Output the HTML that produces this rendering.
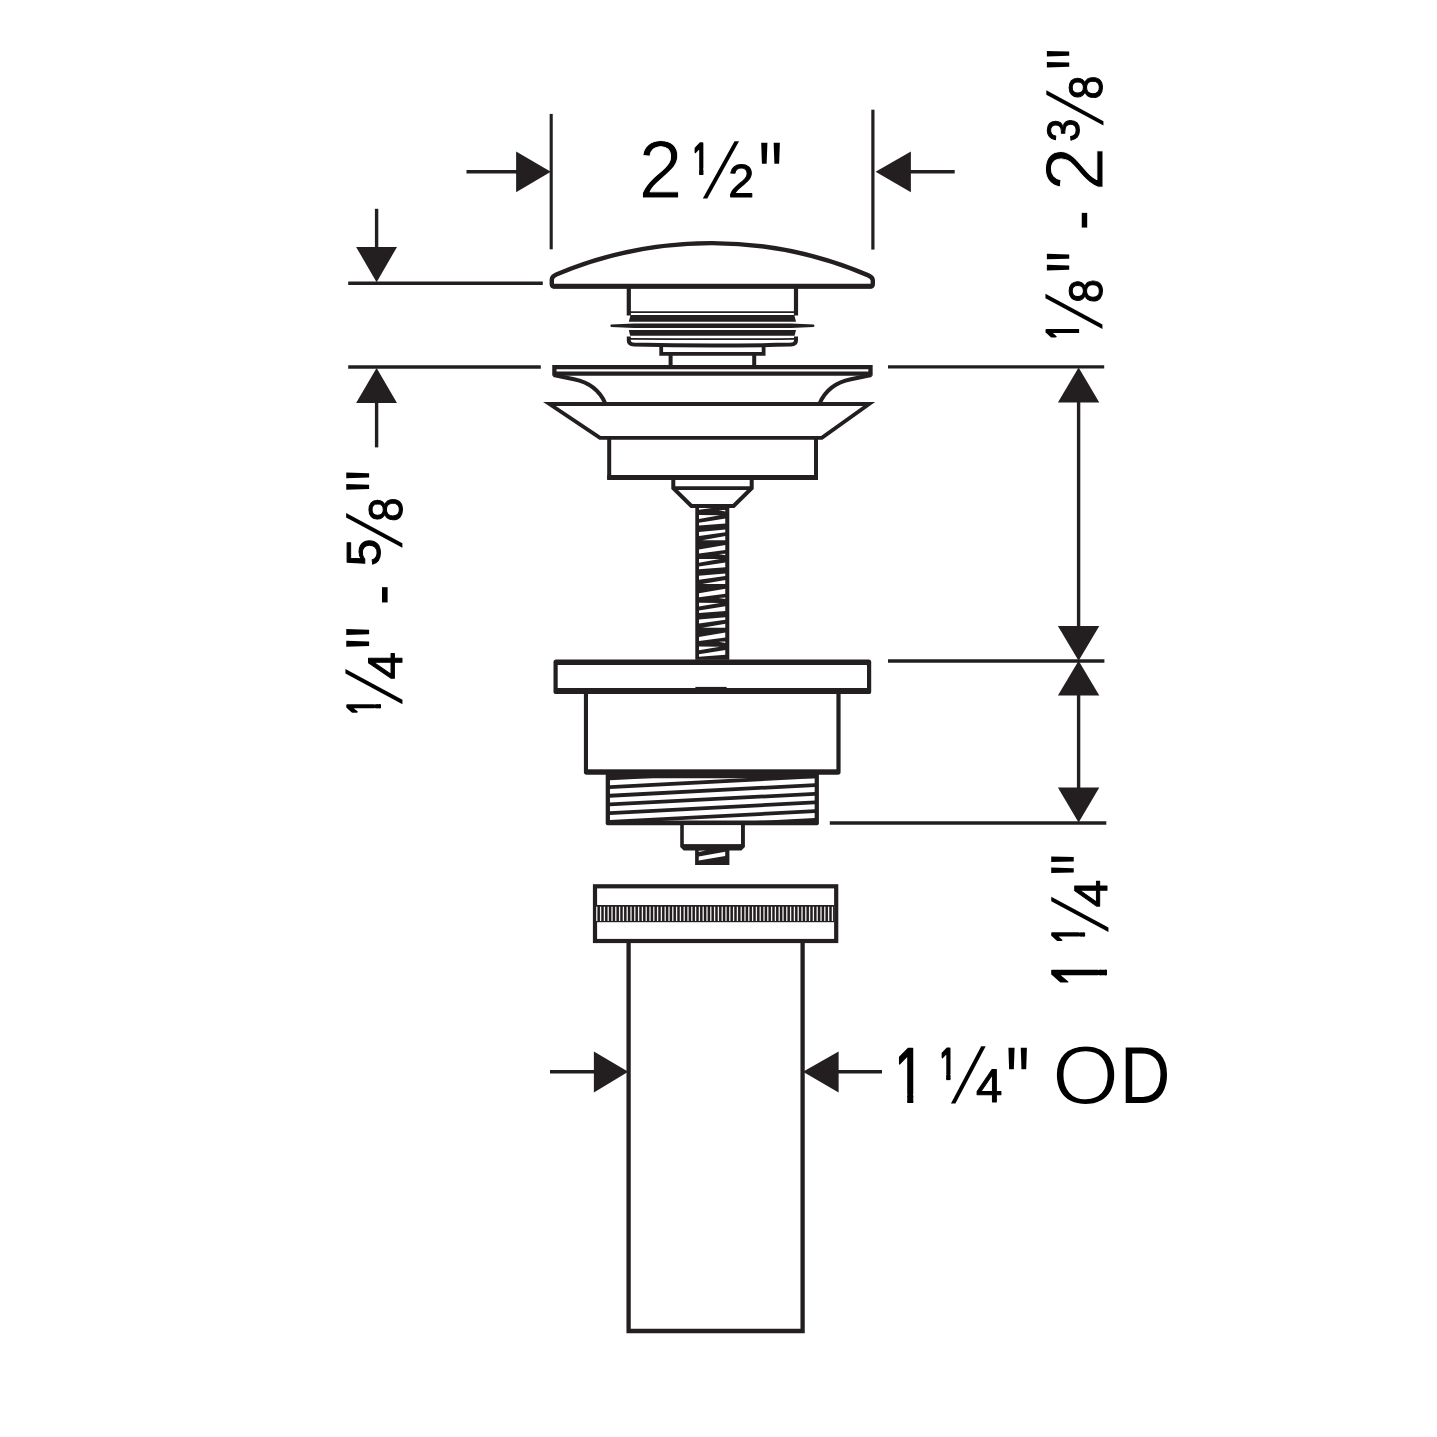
<!DOCTYPE html>
<html lang="en"><head><meta charset="utf-8"><title>Pop-up drain dimensions</title>
<style>html,body{margin:0;padding:0;background:#fff}svg{display:block;will-change:transform}text{text-rendering:geometricPrecision}</style></head>
<body>
<svg width="1437" height="1437" viewBox="0 0 1437 1437" role="img">
<defs><clipPath id="one0"><path d="M -5,-85 L 65,-85 L 65,-11.82 L 36.52,-11.82 L 36.52,3.12 L 22.48,3.12 L 22.48,-11.82 L -5,-11.82 Z"/></clipPath><clipPath id="one1"><path d="M -5,-85 L 65,-85 L 65,-11.79 L 36.49,-11.79 L 36.49,3.09 L 22.51,3.09 L 22.51,-11.79 L -5,-11.79 Z"/></clipPath><clipPath id="one2"><path d="M -5,-85 L 65,-85 L 65,-11.82 L 36.52,-11.82 L 36.52,3.12 L 22.48,3.12 L 22.48,-11.82 L -5,-11.82 Z"/></clipPath><clipPath id="one3"><path d="M -5,-85 L 65,-85 L 65,-10.51 L 35.21,-10.51 L 35.21,1.81 L 23.79,1.81 L 23.79,-10.51 L -5,-10.51 Z"/></clipPath><clipPath id="one4"><path d="M -5,-85 L 65,-85 L 65,-11.79 L 36.49,-11.79 L 36.49,3.09 L 22.51,3.09 L 22.51,-11.79 L -5,-11.79 Z"/></clipPath><clipPath id="one5"><path d="M -5,-85 L 65,-85 L 65,-10.44 L 35.14,-10.44 L 35.14,1.74 L 23.86,1.74 L 23.86,-10.44 L -5,-10.44 Z"/></clipPath><clipPath id="one6"><path d="M -5,-85 L 65,-85 L 65,-11.81 L 36.51,-11.81 L 36.51,3.11 L 22.49,3.11 L 22.49,-11.81 L -5,-11.81 Z"/></clipPath></defs>
<rect width="1437" height="1437" fill="#fff"/>
<line x1="551.2" y1="113.9" x2="551.2" y2="249.3" stroke="#231f20" stroke-width="3.1" stroke-linecap="butt"/>
<line x1="872.9" y1="109.7" x2="872.9" y2="249.6" stroke="#231f20" stroke-width="3.2" stroke-linecap="butt"/>
<line x1="466.5" y1="171.7" x2="520" y2="171.7" stroke="#231f20" stroke-width="3.4" stroke-linecap="butt"/>
<polygon points="516.10,151.60 516.10,192.20 550.80,171.70" fill="#231f20"/>
<line x1="907" y1="171.75" x2="954.7" y2="171.75" stroke="#231f20" stroke-width="3.4" stroke-linecap="butt"/>
<polygon points="910.90,151.50 910.90,192.30 875.60,171.75" fill="#231f20"/>
<line x1="348.2" y1="283.2" x2="542.8" y2="283.2" stroke="#231f20" stroke-width="3.4" stroke-linecap="butt"/>
<line x1="348.2" y1="367" x2="540.8" y2="367" stroke="#231f20" stroke-width="3.4" stroke-linecap="butt"/>
<line x1="376.6" y1="208.8" x2="376.6" y2="250" stroke="#231f20" stroke-width="3.4" stroke-linecap="butt"/>
<polygon points="356.10,246.90 397.00,246.90 376.60,282.30" fill="#231f20"/>
<line x1="376.6" y1="400" x2="376.6" y2="447.4" stroke="#231f20" stroke-width="3.4" stroke-linecap="butt"/>
<polygon points="356.10,402.90 397.00,402.90 376.60,368.00" fill="#231f20"/>
<line x1="888" y1="366.9" x2="1104.2" y2="366.9" stroke="#231f20" stroke-width="3.4" stroke-linecap="butt"/>
<line x1="888" y1="661.0" x2="1104.4" y2="661.0" stroke="#231f20" stroke-width="3.4" stroke-linecap="butt"/>
<line x1="829.8" y1="823" x2="1106.3" y2="823" stroke="#231f20" stroke-width="3.4" stroke-linecap="butt"/>
<line x1="1078.6" y1="400" x2="1078.6" y2="630" stroke="#231f20" stroke-width="3.4" stroke-linecap="butt"/>
<line x1="1078.6" y1="692" x2="1078.6" y2="790" stroke="#231f20" stroke-width="3.4" stroke-linecap="butt"/>
<polygon points="1057.90,402.60 1099.30,402.60 1078.60,367.60" fill="#231f20"/>
<polygon points="1057.90,626.10 1099.30,626.10 1078.60,660.80" fill="#231f20"/>
<polygon points="1057.90,695.60 1099.30,695.60 1078.60,660.80" fill="#231f20"/>
<polygon points="1057.90,787.50 1099.30,787.50 1078.60,822.60" fill="#231f20"/>
<line x1="550" y1="1071.7" x2="597" y2="1071.7" stroke="#231f20" stroke-width="3.4" stroke-linecap="butt"/>
<polygon points="593.90,1051.60 593.90,1092.40 628.20,1071.80" fill="#231f20"/>
<line x1="835" y1="1071.7" x2="882" y2="1071.7" stroke="#231f20" stroke-width="3.4" stroke-linecap="butt"/>
<polygon points="838.60,1051.60 838.60,1092.40 803.00,1071.80" fill="#231f20"/>
<path d="M 554.3,286.4 L 870.3,286.4 Q 872.8,286.4 872.8,283.9 L 872.8,280.6 Q 872.8,277.3 868.3,275.4 A 397.8 397.8 0 0 0 556.3,274.5 Q 551.8,276.4 551.8,279.7 L 551.8,283.9 Q 551.8,286.4 554.3,286.4 Z" fill="#fff" stroke="#231f20" stroke-width="4.4" stroke-linejoin="round" />
<line x1="553" y1="286.3" x2="871.6" y2="286.3" stroke="#231f20" stroke-width="4.9" stroke-linecap="butt"/>
<line x1="628.8" y1="288" x2="628.8" y2="315.5" stroke="#231f20" stroke-width="4.2" stroke-linecap="butt"/>
<line x1="796.0" y1="288" x2="796.0" y2="315.5" stroke="#231f20" stroke-width="4.2" stroke-linecap="butt"/>
<line x1="629" y1="312.2" x2="796" y2="312.2" stroke="#231f20" stroke-width="1.8" stroke-linecap="butt"/>
<polygon points="630.50,315.10 794.30,315.10 796.00,321.80 628.80,321.80" fill="#231f20"/>
<path d="M 611.2,324.5 Q 609.4,325.7 611.2,326.9 L 634,328 L 791,328 L 813.6,326.9 Q 815.4,325.7 813.6,324.5 L 791,323.4 L 634,323.4 Z" fill="#231f20" stroke="#231f20" stroke-width="0" stroke-linejoin="miter" />
<polygon points="628.80,330.10 796.00,330.10 794.60,335.80 630.20,335.80" fill="#231f20"/>
<path d="M 630,338.8 Q 712.4,339.6 795,338.8" fill="none" stroke="#231f20" stroke-width="1.8" stroke-linejoin="miter" />
<path d="M 628.8,336.4 L 628.8,340.5 Q 628.8,344.3 634,344.6 Q 712.4,346.6 790.8,344.6 Q 796,344.3 796,340.5 L 796,336.4" fill="none" stroke="#231f20" stroke-width="4.0" stroke-linejoin="miter" />
<path d="M 661.2,346 L 661.2,353.8 L 763.6,353.8 L 763.6,346" fill="none" stroke="#231f20" stroke-width="3.8" stroke-linejoin="miter" />
<line x1="670.6" y1="355" x2="670.6" y2="366" stroke="#231f20" stroke-width="4.0" stroke-linecap="butt"/>
<line x1="754.2" y1="355" x2="754.2" y2="366" stroke="#231f20" stroke-width="4.0" stroke-linecap="butt"/>
<path d="M 554.4,367.1 L 870.5,367.1 L 870.5,373.6 L 554.4,373.6 Z" fill="#fff" stroke="#231f20" stroke-width="4.3" stroke-linejoin="miter" />
<path d="M 553.5,375 L 574,379.3 Q 597,384 605.3,403.5" fill="none" stroke="#231f20" stroke-width="4.0" stroke-linejoin="miter" />
<path d="M 871.4,375 L 850.9,379.3 Q 827.9,384 819.6,403.5" fill="none" stroke="#231f20" stroke-width="4.0" stroke-linejoin="miter" />
<path d="M 549.5,404.0 L 869.1,404.0 L 821.8,437.9 L 600.0,437.9 Z" fill="none" stroke="#231f20" stroke-width="3.9" stroke-linejoin="miter" />
<path d="M 609.2,438.2 L 609.2,477.5 L 816.0,477.5 L 816.0,438.2" fill="none" stroke="#231f20" stroke-width="4.0" stroke-linejoin="miter" />
<line x1="607.2" y1="477.5" x2="818.0" y2="477.5" stroke="#231f20" stroke-width="5.2" stroke-linecap="butt"/>
<path d="M 673.3,479 L 673.3,488.2 L 691.4,506 L 733.6,506 L 751.7,488.2 L 751.7,479" fill="none" stroke="#231f20" stroke-width="4.0" stroke-linejoin="miter" />
<line x1="673.3" y1="488.2" x2="751.7" y2="488.2" stroke="#231f20" stroke-width="3.8" stroke-linecap="butt"/>
<rect x="695.30" y="506.00" width="34.00" height="153.80" fill="#231f20"/>
<clipPath id="rodclip"><rect x="698.9" y="508" width="26.6" height="151.6"/></clipPath>
<g clip-path="url(#rodclip)" fill="#fff">
<polygon points="698.90,471.30 719.90,471.50 698.90,475.10"/>
<polygon points="698.90,479.00 725.50,474.80 725.50,479.60 698.90,481.60"/>
<polygon points="698.90,488.20 725.50,485.80 725.50,488.40 698.90,492.20"/>
<polygon points="702.20,496.40 725.50,492.30 725.50,496.40"/>
<polygon points="698.90,505.60 725.50,501.20 725.50,506.20 698.90,509.70"/>
<polygon points="718.70,510.30 725.50,510.00 725.50,511.50"/>
<polygon points="698.90,515.10 719.90,515.30 698.90,518.90"/>
<polygon points="698.90,522.80 725.50,518.60 725.50,523.40 698.90,525.40"/>
<polygon points="698.90,532.00 725.50,529.60 725.50,532.20 698.90,536.00"/>
<polygon points="702.20,540.20 725.50,536.10 725.50,540.20"/>
<polygon points="698.90,549.40 725.50,545.00 725.50,550.00 698.90,553.50"/>
<polygon points="718.70,554.10 725.50,553.80 725.50,555.30"/>
<polygon points="698.90,558.90 719.90,559.10 698.90,562.70"/>
<polygon points="698.90,566.60 725.50,562.40 725.50,567.20 698.90,569.20"/>
<polygon points="698.90,575.80 725.50,573.40 725.50,576.00 698.90,579.80"/>
<polygon points="702.20,584.00 725.50,579.90 725.50,584.00"/>
<polygon points="698.90,593.20 725.50,588.80 725.50,593.80 698.90,597.30"/>
<polygon points="718.70,597.90 725.50,597.60 725.50,599.10"/>
<polygon points="698.90,602.70 719.90,602.90 698.90,606.50"/>
<polygon points="698.90,610.40 725.50,606.20 725.50,611.00 698.90,613.00"/>
<polygon points="698.90,619.60 725.50,617.20 725.50,619.80 698.90,623.60"/>
<polygon points="702.20,627.80 725.50,623.70 725.50,627.80"/>
<polygon points="698.90,637.00 725.50,632.60 725.50,637.60 698.90,641.10"/>
<polygon points="718.70,641.70 725.50,641.40 725.50,642.90"/>
<polygon points="698.90,646.50 719.90,646.70 698.90,650.30"/>
<polygon points="698.90,654.20 725.50,650.00 725.50,654.80 698.90,656.80"/>
<polygon points="698.90,663.40 725.50,661.00 725.50,663.60 698.90,667.40"/>
<polygon points="702.20,671.60 725.50,667.50 725.50,671.60"/>
<polygon points="698.90,680.80 725.50,676.40 725.50,681.40 698.90,684.90"/>
<polygon points="718.70,685.50 725.50,685.20 725.50,686.70"/>
<polygon points="698.90,690.30 719.90,690.50 698.90,694.10"/>
<polygon points="698.90,698.00 725.50,693.80 725.50,698.60 698.90,700.60"/>
<polygon points="698.90,707.20 725.50,704.80 725.50,707.40 698.90,711.20"/>
<polygon points="702.20,715.40 725.50,711.30 725.50,715.40"/>
<polygon points="698.90,724.60 725.50,720.20 725.50,725.20 698.90,728.70"/>
<polygon points="718.70,729.30 725.50,729.00 725.50,730.50"/>
</g>
<path d="M 583.9,690 L 840.6,690 L 840.6,772.0 Q 840.6,774.7 837.9,774.7 L 586.6,774.7 Q 583.9,774.7 583.9,772.0 Z" fill="#231f20"/>
<rect x="588.00" y="690.00" width="248.40" height="79.30" fill="#fff"/>
<rect x="553.5" y="659.6" width="317.7" height="34.4" rx="2.6" fill="#231f20"/>
<rect x="557.7" y="665.0" width="309.3" height="23.1" rx="0.6" fill="#fff"/>
<rect x="695.40" y="686.90" width="31.20" height="1.80" fill="#231f20"/>
<path d="M 605.7,772 L 818.9,772 L 818.9,823.2 Q 818.9,825.2 816.9,825.2 L 607.7,825.2 Q 605.7,825.2 605.7,823.2 Z" fill="#231f20"/>
<clipPath id="thclip"><rect x="609.8" y="778.3" width="205" height="42.2"/></clipPath>
<g clip-path="url(#thclip)" fill="#fff">
<polygon points="609.8,780.28 814.8,769.62 814.8,774.52 609.8,785.18"/>
<polygon points="609.8,788.96 814.8,778.30 814.8,783.20 609.8,793.86"/>
<polygon points="609.8,797.64 814.8,786.98 814.8,791.88 609.8,802.54"/>
<polygon points="609.8,806.32 814.8,795.66 814.8,800.56 609.8,811.22"/>
<polygon points="609.8,815.00 814.8,804.34 814.8,809.24 609.8,819.90"/>
<polygon points="609.8,823.68 814.8,813.02 814.8,817.92 609.8,828.58"/>
</g>
<path d="M 680.2,824 L 744.9,824 L 744.9,846.9 L 741.4,850.4 L 683.7,850.4 L 680.2,846.9 Z" fill="#231f20"/>
<rect x="683.80" y="825.10" width="57.20" height="19.00" fill="#fff"/>
<rect x="695.10" y="850.00" width="34.30" height="15.00" fill="#231f20"/>
<polygon points="698.75,856.60 725.20,851.75 725.20,855.90 698.75,860.45" fill="#fff"/>
<polygon points="698.75,850.70 706.00,850.40 698.75,852.10" fill="#fff"/>
<path d="M 628.6,941 L 628.6,1331 L 802.6,1331 L 802.6,941" fill="none" stroke="#231f20" stroke-width="4.3" stroke-linejoin="miter" />
<rect x="595" y="886.3" width="241.2" height="54.7" fill="#fff" stroke="#231f20" stroke-width="4.2"/>
<rect x="596.90" y="905.00" width="237.20" height="17.20" fill="#231f20"/>
<rect x="596.15" y="906.70" width="1.30" height="14.30" fill="#f2f2f2"/>
<rect x="599.95" y="906.70" width="1.30" height="14.30" fill="#f2f2f2"/>
<rect x="603.75" y="906.70" width="1.30" height="14.30" fill="#f2f2f2"/>
<rect x="607.55" y="906.70" width="1.30" height="14.30" fill="#f2f2f2"/>
<rect x="611.35" y="906.70" width="1.30" height="14.30" fill="#f2f2f2"/>
<rect x="615.15" y="906.70" width="1.30" height="14.30" fill="#f2f2f2"/>
<rect x="618.95" y="906.70" width="1.30" height="14.30" fill="#f2f2f2"/>
<rect x="622.75" y="906.70" width="1.30" height="14.30" fill="#f2f2f2"/>
<rect x="626.55" y="906.70" width="1.30" height="14.30" fill="#f2f2f2"/>
<rect x="630.35" y="906.70" width="1.30" height="14.30" fill="#f2f2f2"/>
<rect x="634.15" y="906.70" width="1.30" height="14.30" fill="#f2f2f2"/>
<rect x="637.95" y="906.70" width="1.30" height="14.30" fill="#f2f2f2"/>
<rect x="641.75" y="906.70" width="1.30" height="14.30" fill="#f2f2f2"/>
<rect x="645.55" y="906.70" width="1.30" height="14.30" fill="#f2f2f2"/>
<rect x="649.35" y="906.70" width="1.30" height="14.30" fill="#f2f2f2"/>
<rect x="653.15" y="906.70" width="1.30" height="14.30" fill="#f2f2f2"/>
<rect x="656.95" y="906.70" width="1.30" height="14.30" fill="#f2f2f2"/>
<rect x="660.75" y="906.70" width="1.30" height="14.30" fill="#f2f2f2"/>
<rect x="664.55" y="906.70" width="1.30" height="14.30" fill="#f2f2f2"/>
<rect x="668.35" y="906.70" width="1.30" height="14.30" fill="#f2f2f2"/>
<rect x="672.15" y="906.70" width="1.30" height="14.30" fill="#f2f2f2"/>
<rect x="675.95" y="906.70" width="1.30" height="14.30" fill="#f2f2f2"/>
<rect x="679.75" y="906.70" width="1.30" height="14.30" fill="#f2f2f2"/>
<rect x="683.55" y="906.70" width="1.30" height="14.30" fill="#f2f2f2"/>
<rect x="687.35" y="906.70" width="1.30" height="14.30" fill="#f2f2f2"/>
<rect x="691.15" y="906.70" width="1.30" height="14.30" fill="#f2f2f2"/>
<rect x="694.95" y="906.70" width="1.30" height="14.30" fill="#f2f2f2"/>
<rect x="698.75" y="906.70" width="1.30" height="14.30" fill="#f2f2f2"/>
<rect x="702.55" y="906.70" width="1.30" height="14.30" fill="#f2f2f2"/>
<rect x="706.35" y="906.70" width="1.30" height="14.30" fill="#f2f2f2"/>
<rect x="710.15" y="906.70" width="1.30" height="14.30" fill="#f2f2f2"/>
<rect x="713.95" y="906.70" width="1.30" height="14.30" fill="#f2f2f2"/>
<rect x="717.75" y="906.70" width="1.30" height="14.30" fill="#f2f2f2"/>
<rect x="721.55" y="906.70" width="1.30" height="14.30" fill="#f2f2f2"/>
<rect x="725.35" y="906.70" width="1.30" height="14.30" fill="#f2f2f2"/>
<rect x="729.15" y="906.70" width="1.30" height="14.30" fill="#f2f2f2"/>
<rect x="732.95" y="906.70" width="1.30" height="14.30" fill="#f2f2f2"/>
<rect x="736.75" y="906.70" width="1.30" height="14.30" fill="#f2f2f2"/>
<rect x="740.55" y="906.70" width="1.30" height="14.30" fill="#f2f2f2"/>
<rect x="744.35" y="906.70" width="1.30" height="14.30" fill="#f2f2f2"/>
<rect x="748.15" y="906.70" width="1.30" height="14.30" fill="#f2f2f2"/>
<rect x="751.95" y="906.70" width="1.30" height="14.30" fill="#f2f2f2"/>
<rect x="755.75" y="906.70" width="1.30" height="14.30" fill="#f2f2f2"/>
<rect x="759.55" y="906.70" width="1.30" height="14.30" fill="#f2f2f2"/>
<rect x="763.35" y="906.70" width="1.30" height="14.30" fill="#f2f2f2"/>
<rect x="767.15" y="906.70" width="1.30" height="14.30" fill="#f2f2f2"/>
<rect x="770.95" y="906.70" width="1.30" height="14.30" fill="#f2f2f2"/>
<rect x="774.75" y="906.70" width="1.30" height="14.30" fill="#f2f2f2"/>
<rect x="778.55" y="906.70" width="1.30" height="14.30" fill="#f2f2f2"/>
<rect x="782.35" y="906.70" width="1.30" height="14.30" fill="#f2f2f2"/>
<rect x="786.15" y="906.70" width="1.30" height="14.30" fill="#f2f2f2"/>
<rect x="789.95" y="906.70" width="1.30" height="14.30" fill="#f2f2f2"/>
<rect x="793.75" y="906.70" width="1.30" height="14.30" fill="#f2f2f2"/>
<rect x="797.55" y="906.70" width="1.30" height="14.30" fill="#f2f2f2"/>
<rect x="801.35" y="906.70" width="1.30" height="14.30" fill="#f2f2f2"/>
<rect x="805.15" y="906.70" width="1.30" height="14.30" fill="#f2f2f2"/>
<rect x="808.95" y="906.70" width="1.30" height="14.30" fill="#f2f2f2"/>
<rect x="812.75" y="906.70" width="1.30" height="14.30" fill="#f2f2f2"/>
<rect x="816.55" y="906.70" width="1.30" height="14.30" fill="#f2f2f2"/>
<rect x="820.35" y="906.70" width="1.30" height="14.30" fill="#f2f2f2"/>
<rect x="824.15" y="906.70" width="1.30" height="14.30" fill="#f2f2f2"/>
<rect x="827.95" y="906.70" width="1.30" height="14.30" fill="#f2f2f2"/>
<rect x="831.75" y="906.70" width="1.30" height="14.30" fill="#f2f2f2"/>
<g id="dim-top"><text transform="translate(638.58,198.15) scale(0.7934,0.8215)" font-family="Liberation Sans, sans-serif" font-size="100" fill="#000" stroke="#fff" stroke-width="1.11" stroke-linejoin="round">2</text> <text transform="translate(692.50,173.75) scale(0.2966,0.4436)" clip-path="url(#one0)" font-family="Liberation Sans, sans-serif" font-size="100" fill="#000" stroke="#000" stroke-width="5.24" stroke-linejoin="round">1</text><text transform="matrix(0.8708,0,-0.1172,0.6967,702.58,192.06)" font-family="DejaVu Sans Light, DejaVu Sans, sans-serif" font-weight="200" font-size="100" fill="#000">/</text><text transform="translate(728.17,197.20) scale(0.4659,0.4645)" font-family="Liberation Sans, sans-serif" font-size="100" fill="#000" stroke="#000" stroke-width="2.15" stroke-linejoin="round">2</text><text transform="translate(758.36,209.63) scale(0.6926,0.9793)" font-family="Liberation Sans, sans-serif" font-size="100" fill="#000">&quot;</text></g>
<g id="dim-left"><text transform="rotate(-90) translate(-714.72,379.55) scale(0.2852,0.4727)" clip-path="url(#one1)" font-family="Liberation Sans, sans-serif" font-size="100" fill="#000" stroke="#000" stroke-width="5.17" stroke-linejoin="round">1</text><text transform="rotate(-90) matrix(0.8663,0,-0.1067,0.6930,-704.51,396.29)" font-family="DejaVu Sans Light, DejaVu Sans, sans-serif" font-weight="200" font-size="100" fill="#000">/</text><text transform="rotate(-90) translate(-679.61,402.00) scale(0.4950,0.4873)" font-family="Liberation Sans, sans-serif" font-size="100" fill="#000" stroke="#000" stroke-width="2.04" stroke-linejoin="round">4</text><text transform="rotate(-90) translate(-649.49,418.80) scale(0.6556,1.0575)" font-family="Liberation Sans, sans-serif" font-size="100" fill="#000">&quot;</text> <text transform="rotate(-90) translate(-605.22,403.64) scale(0.6268,0.7226)" font-family="Liberation Sans, sans-serif" font-size="100" fill="#000">-</text> <text transform="rotate(-90) translate(-566.29,379.52) scale(0.4968,0.4789)" font-family="Liberation Sans, sans-serif" font-size="100" fill="#000" stroke="#000" stroke-width="2.05" stroke-linejoin="round">5</text><text transform="rotate(-90) matrix(0.8556,0,-0.1034,0.6845,-547.93,396.27)" font-family="DejaVu Sans Light, DejaVu Sans, sans-serif" font-weight="200" font-size="100" fill="#000">/</text><text transform="rotate(-90) translate(-521.75,401.53) scale(0.4362,0.4735)" font-family="Liberation Sans, sans-serif" font-size="100" fill="#000" stroke="#000" stroke-width="2.20" stroke-linejoin="round">8</text><text transform="rotate(-90) translate(-492.42,418.80) scale(0.6407,1.0575)" font-family="Liberation Sans, sans-serif" font-size="100" fill="#000">&quot;</text></g>
<g id="dim-right-top"><text transform="rotate(-90) translate(-339.55,1078.25) scale(0.2890,0.4553)" clip-path="url(#one2)" font-family="Liberation Sans, sans-serif" font-size="100" fill="#000" stroke="#000" stroke-width="5.24" stroke-linejoin="round">1</text><text transform="rotate(-90) matrix(0.8663,0,-0.1055,0.6930,-329.32,1096.49)" font-family="DejaVu Sans Light, DejaVu Sans, sans-serif" font-weight="200" font-size="100" fill="#000">/</text><text transform="rotate(-90) translate(-302.94,1101.83) scale(0.4319,0.4707)" font-family="Liberation Sans, sans-serif" font-size="100" fill="#000" stroke="#000" stroke-width="2.22" stroke-linejoin="round">8</text><text transform="rotate(-90) translate(-273.01,1117.62) scale(0.6148,1.0345)" font-family="Liberation Sans, sans-serif" font-size="100" fill="#000">&quot;</text> <text transform="rotate(-90) translate(-230.21,1103.25) scale(0.6021,0.6968)" font-family="Liberation Sans, sans-serif" font-size="100" fill="#000">-</text> <text transform="rotate(-90) translate(-191.35,1102.85) scale(0.8000,0.8244)" font-family="Liberation Sans, sans-serif" font-size="100" fill="#000" stroke="#fff" stroke-width="1.11" stroke-linejoin="round">2</text> <text transform="rotate(-90) translate(-141.76,1078.65) scale(0.4168,0.4537)" font-family="Liberation Sans, sans-serif" font-size="100" fill="#000" stroke="#000" stroke-width="2.30" stroke-linejoin="round">3</text><text transform="rotate(-90) matrix(0.8693,0,-0.1068,0.6954,-126.12,1096.57)" font-family="DejaVu Sans Light, DejaVu Sans, sans-serif" font-weight="200" font-size="100" fill="#000">/</text><text transform="rotate(-90) translate(-99.44,1101.83) scale(0.4319,0.4707)" font-family="Liberation Sans, sans-serif" font-size="100" fill="#000" stroke="#000" stroke-width="2.22" stroke-linejoin="round">8</text><text transform="rotate(-90) translate(-69.90,1117.62) scale(0.6111,1.0345)" font-family="Liberation Sans, sans-serif" font-size="100" fill="#000">&quot;</text></g>
<g id="dim-right-bottom"><text transform="rotate(-90) translate(-986.51,1106.30) scale(0.4753,0.7825)" clip-path="url(#one3)" font-family="Liberation Sans, sans-serif" font-size="100" fill="#000" stroke="#000" stroke-width="2.62" stroke-linejoin="round">1</text> <text transform="rotate(-90) translate(-943.08,1084.25) scale(0.2928,0.4596)" clip-path="url(#one4)" font-family="Liberation Sans, sans-serif" font-size="100" fill="#000" stroke="#000" stroke-width="5.18" stroke-linejoin="round">1</text><text transform="rotate(-90) matrix(0.8708,0,-0.1050,0.6967,-932.43,1101.76)" font-family="DejaVu Sans Light, DejaVu Sans, sans-serif" font-weight="200" font-size="100" fill="#000">/</text><text transform="rotate(-90) translate(-907.20,1107.30) scale(0.4911,0.4698)" font-family="Liberation Sans, sans-serif" font-size="100" fill="#000" stroke="#000" stroke-width="2.08" stroke-linejoin="round">4</text><text transform="rotate(-90) translate(-875.63,1123.45) scale(0.6185,1.0437)" font-family="Liberation Sans, sans-serif" font-size="100" fill="#000">&quot;</text></g>
<g id="dim-od"><text transform="translate(894.55,1102.00) scale(0.5323,0.7767)" clip-path="url(#one5)" font-family="Liberation Sans, sans-serif" font-size="100" fill="#000" stroke="#000" stroke-width="2.49" stroke-linejoin="round">1</text> <text transform="translate(939.47,1079.15) scale(0.3004,0.4422)" clip-path="url(#one6)" font-family="Liberation Sans, sans-serif" font-size="100" fill="#000" stroke="#000" stroke-width="5.21" stroke-linejoin="round">1</text><text transform="matrix(0.8693,0,-0.0995,0.6954,950.62,1097.47)" font-family="DejaVu Sans Light, DejaVu Sans, sans-serif" font-weight="200" font-size="100" fill="#000">/</text><text transform="translate(975.94,1102.30) scale(0.4733,0.4713)" font-family="Liberation Sans, sans-serif" font-size="100" fill="#000" stroke="#000" stroke-width="2.12" stroke-linejoin="round">4</text><text transform="translate(1005.59,1116.08) scale(0.6852,0.9931)" font-family="Liberation Sans, sans-serif" font-size="100" fill="#000">&quot;</text> <text transform="translate(1051.95,1103.81) scale(0.8630,0.8353)" font-family="Liberation Sans, sans-serif" font-size="100" fill="#000" stroke="#fff" stroke-width="1.77" stroke-linejoin="round">O</text><text transform="translate(1120.05,1102.90) scale(0.6970,0.8087)" font-family="Liberation Sans, sans-serif" font-size="100" fill="#000">D</text></g>
</svg>
</body></html>
